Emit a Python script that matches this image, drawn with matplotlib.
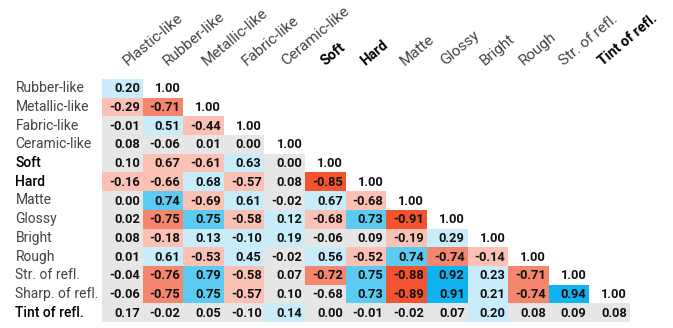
import numpy as np
import matplotlib
matplotlib.use("Agg")
import matplotlib.pyplot as plt
from matplotlib.colors import ListedColormap

plt.rcParams['font.family'] = ['Roboto', 'DejaVu Sans']

col_labels = ['Plastic-like', 'Rubber-like', 'Metallic-like', 'Fabric-like', 'Ceramic-like',
              'Soft', 'Hard', 'Matte', 'Glossy', 'Bright', 'Rough', 'Str. of refl.', 'Tint of refl.']
row_labels = ['Rubber-like', 'Metallic-like', 'Fabric-like', 'Ceramic-like', 'Soft', 'Hard',
              'Matte', 'Glossy', 'Bright', 'Rough', 'Str. of refl.', 'Sharp. of refl.', 'Tint of refl.']
bold_labels = {'Soft', 'Hard', 'Tint of refl.'}

# lower triangle of the correlation table, one list per row
corr = [
    [0.20, 1.00],
    [-0.29, -0.71, 1.00],
    [-0.01, 0.51, -0.44, 1.00],
    [0.08, -0.06, 0.01, 0.00, 1.00],
    [0.10, 0.67, -0.61, 0.63, 0.00, 1.00],
    [-0.16, -0.66, 0.68, -0.57, 0.08, -0.85, 1.00],
    [0.00, 0.74, -0.69, 0.61, -0.02, 0.67, -0.68, 1.00],
    [0.02, -0.75, 0.75, -0.58, 0.12, -0.68, 0.73, -0.91, 1.00],
    [0.08, -0.18, 0.13, -0.10, 0.19, -0.06, 0.09, -0.19, 0.29, 1.00],
    [0.01, 0.61, -0.53, 0.45, -0.02, 0.56, -0.52, 0.74, -0.74, -0.14, 1.00],
    [-0.04, -0.76, 0.79, -0.58, 0.07, -0.72, 0.75, -0.88, 0.92, 0.23, -0.71, 1.00],
    [-0.06, -0.75, 0.75, -0.57, 0.10, -0.68, 0.73, -0.89, 0.91, 0.21, -0.74, 0.94, 1.00],
    [0.17, -0.02, 0.05, -0.10, 0.14, 0.00, -0.01, -0.02, 0.07, 0.20, 0.08, 0.09, 0.08],
]

# shading class of each cell (-3 strong negative ... 3 strong positive), None = no fill
shade = [
    [1, None],
    [-1, -2, None],
    [0, 1, -1, None],
    [0, 0, 0, 0, None],
    [0, -1, -1, 1, 0, None],
    [-1, -1, 1, -1, 0, -3, None],
    [0, 2, -1, 1, 0, 1, -1, None],
    [0, -2, 2, -1, 1, -1, 2, -3, None],
    [0, -1, 1, 1, 1, 0, 0, -1, 1, None],
    [0, 1, -1, 1, 0, 1, -1, 2, -2, -1, None],
    [0, -2, 2, -1, 0, -2, 2, -3, 3, 1, -2, None],
    [0, -2, 2, -1, 0, 0, 2, -3, 3, 1, -2, 3, None],
    [0, 0, 0, 0, 1, 0, 0, 0, 0, 1, 0, 0, 0],
]

palette = ['#f4532f', '#f5866e', '#fbc1b5', '#e6e6e6', '#c9ecfa', '#5ccbf2', '#10b3ef']

n_rows, n_cols = len(row_labels), len(col_labels)
grid = np.full((n_rows, n_cols), np.nan)
for i, row in enumerate(shade):
    for j, s in enumerate(row):
        if s is not None:
            grid[i, j] = s + 3

fig = plt.figure(figsize=(6.73, 3.28), dpi=100)
ax = fig.add_axes([102 / 673, 6 / 328, 528 / 673, 243 / 328])
ax.imshow(np.ma.masked_invalid(grid), cmap=ListedColormap(palette), vmin=-0.5, vmax=6.5,
          aspect='auto', interpolation='nearest')
ax.set_xlim(-0.5, n_cols - 0.5)
ax.set_ylim(n_rows - 0.5, -0.5)
ax.axis('off')

for i, row in enumerate(corr):
    for j, v in enumerate(row):
        ax.text(j + 0.43, i + 0.03, f'{v:.2f}', ha='right', va='center',
                fontsize=9.3, fontweight='bold', color='#111111')

for i, lab in enumerate(row_labels):
    hi = lab in bold_labels
    ax.text(-2.63, i, lab, ha='left', va='center', fontsize=10,
            fontweight='medium' if hi else 'normal', color='black' if hi else '#444444',
            clip_on=False)

# column headers, slanted
for j, lab in enumerate(col_labels):
    hi = lab in bold_labels
    ax.text(j + 0.14 - 0.025 * j, -1.2, lab, ha='left', va='baseline', rotation=40,
            rotation_mode='anchor', fontsize=10.3 if hi else 11,
            fontweight='bold' if hi else 'normal', color='black' if hi else '#444444',
            clip_on=False)

fig.savefig('out.png', dpi=100)
